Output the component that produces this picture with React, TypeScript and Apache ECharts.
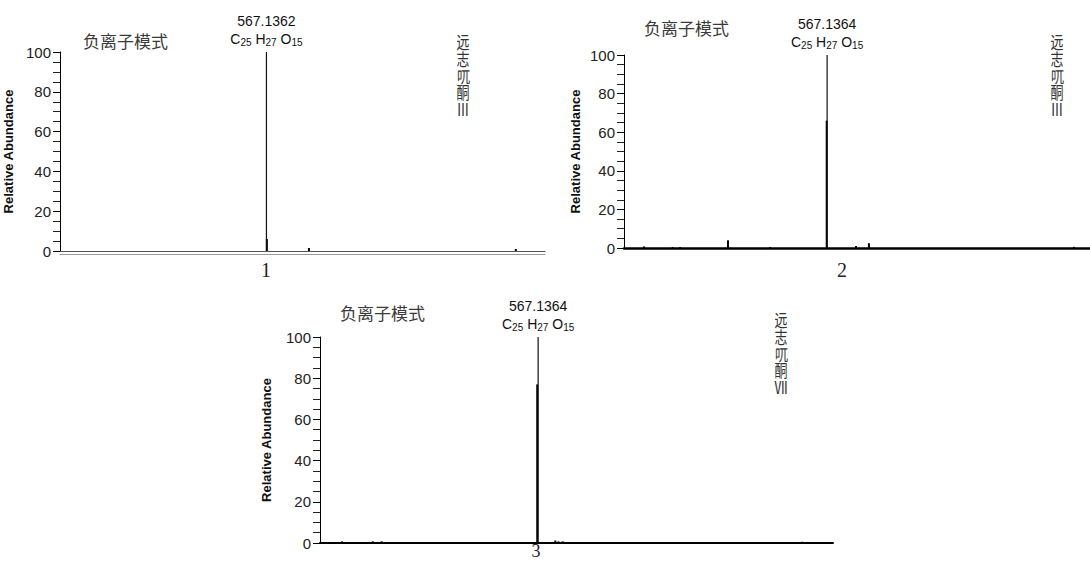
import React, { useEffect, useRef } from "react";
import * as echarts from "echarts";

// ---- data (m/z, relative abundance) ----
const basePeak1 = [[567.1362, 100]];
const otherPeaks1 = [[568.0, 6], [653, 1.5], [1071, 1]];
const basePeak2 = [[567.1364, 100]];
const otherPeaks2 = [[566.3, 66], [191, 0.8], [250, 0.5], [265, 0.5], [363.6, 4], [450, 0.5], [626.5, 1], [653, 2.5], [1074, 0.6]];
const basePeak3 = [[567.1364, 100]];
const otherPeaks3 = [[565.4, 77], [192, 0.8], [251, 0.8], [268, 0.8], [600, 1.2], [606, 0.8], [614, 0.8], [625, 0.5], [1072, 0.6]];

const peakMz = ["567.1362", "567.1364", "567.1364"];
const formulaParts = [["C", "25"], [" H", "27"], [" O", "15"]];
const modeLabel = "负离子模式";
const compoundNames = ["远\n志\n𠮾\n酮\nⅢ", "远\n志\n𠮾\n酮\nⅢ", "远\n志\n𠮾\n酮\nⅦ"];
const panelNumbers = ["1", "2", "3"];
const yTicks = [0, 20, 40, 60, 80, 100];
const xRanges = [[150, 1130], [150, 1107], [150, 1131]];

const FONT = "'Liberation Sans', Arial, sans-serif";
const CJK = "'Noto Sans CJK SC', sans-serif";

function peakLabel(mz: string) {
  const f = formulaParts.map(([e, s]) => `{e|${e}}{s|${s}}`).join("");
  return `{m|${mz}}\n${f}`;
}

const richStyle = {
  m: { fontSize: 14, lineHeight: 18, fontFamily: FONT, fill: "#111" },
  e: { fontSize: 14, lineHeight: 18, fontFamily: FONT, fill: "#111" },
  s: { fontSize: 10, lineHeight: 18, fontFamily: FONT, fill: "#111", padding: [6, 0, 0, 0] },
};

function makeRender(width: number, color: string, label?: string) {
  return (params: any, api: any) => {
    const x = api.value(0);
    const y = api.value(1);
    const top = api.coord([x, y]);
    const base = api.coord([x, 0]);
    const el: any = {
      type: "line",
      shape: { x1: top[0], y1: top[1], x2: base[0], y2: base[1] },
      style: { stroke: color, lineWidth: width },
    };
    if (label) {
      el.textContent = {
        style: { text: label, rich: richStyle, align: "center", verticalAlign: "bottom" },
      };
      el.textConfig = { position: "top", distance: 3 };
    }
    return el;
  };
}

export default function App() {
  const ref = useRef<HTMLDivElement>(null);
  useEffect(() => {
    if (!ref.current) return;
    const chart = echarts.init(ref.current, undefined, { renderer: "svg" });
    const grids = [
      { left: 60, top: 52, width: 485, height: 199 },
      { left: 624, top: 55, width: 466, height: 193 },
      { left: 320, top: 337, width: 513, height: 206 },
    ];
    const nameGaps = [45, 42, 47];
    const xLineStyles = [
      { color: "#555", width: 1 },
      { color: "#000", width: 2.5 },
      { color: "#000", width: 2 },
    ];
    const xAxes: any[] = grids.map((_, i) => ({
      type: "value",
      gridIndex: i,
      min: xRanges[i][0],
      max: xRanges[i][1],
      axisLine: { show: true, onZero: false, lineStyle: xLineStyles[i] },
      axisTick: { show: false },
      axisLabel: { show: false },
      splitLine: { show: false },
    }));
    xAxes.push({
      type: "value",
      gridIndex: 0,
      position: "bottom",
      offset: 3,
      min: xRanges[0][0],
      max: xRanges[0][1],
      axisLine: { show: true, onZero: false, lineStyle: { color: "#999", width: 1 } },
      axisTick: { show: false },
      axisLabel: { show: false },
      splitLine: { show: false },
    });
    const yAxes = grids.map((_, i) => ({
      type: "value",
      gridIndex: i,
      min: yTicks[0],
      max: yTicks[yTicks.length - 1],
      interval: yTicks[1] - yTicks[0],
      axisLine: { show: true, lineStyle: { color: "#000", width: 1 } },
      axisTick: { show: true, length: 7, lineStyle: { color: "#000" } },
      minorTick: { show: true, splitNumber: 4, length: 7, lineStyle: { color: "#222" } },
      axisLabel: { fontSize: 15, color: "#222", margin: 9, fontFamily: FONT },
      splitLine: { show: false },
      name: "Relative Abundance",
      nameLocation: "middle",
      nameGap: nameGaps[i],
      nameTextStyle: { fontSize: 13, fontWeight: "bold", color: "#111", fontFamily: FONT },
    }));
    const bases = [basePeak1, basePeak2, basePeak3];
    const others = [otherPeaks1, otherPeaks2, otherPeaks3];
    const series: any[] = [];
    for (let i = 0; i < 3; i++) {
      series.push({
        type: "custom",
        xAxisIndex: i,
        yAxisIndex: i,
        clip: false,
        data: others[i],
        encode: { x: 0, y: 1 },
        renderItem: makeRender(2, "#000"),
      });
      series.push({
        type: "custom",
        xAxisIndex: i,
        yAxisIndex: i,
        clip: false,
        data: bases[i],
        encode: { x: 0, y: 1 },
        renderItem: makeRender(1.2, "#111", peakLabel(peakMz[i])),
      });
    }
    const modePos = [[83, 40], [644, 27], [340, 312]];
    const namePos = [[463, 33], [1057, 33], [781, 311]];
    const numPos = [[266, 270], [842, 270], [536, 551]];
    const numSizes = [20, 20, 18];
    const graphic: any[] = [];
    for (let i = 0; i < 3; i++) {
      graphic.push({
        type: "text",
        x: modePos[i][0],
        y: modePos[i][1],
        style: { text: modeLabel, fontSize: 17, fontFamily: CJK, fill: "#3a3a3a", verticalAlign: "middle" },
      });
      graphic.push({
        type: "text",
        x: namePos[i][0],
        y: namePos[i][1],
        scaleY: 1.3,
        style: {
          text: compoundNames[i],
          fontSize: 13,
          lineHeight: 13,
          fontFamily: CJK,
          fill: "#333",
          align: "center",
          verticalAlign: "top",
        },
      });
      graphic.push({
        type: "text",
        x: numPos[i][0],
        y: numPos[i][1],
        style: {
          text: panelNumbers[i],
          fontSize: numSizes[i],
          fontFamily: "'Liberation Serif', 'Times New Roman', serif",
          fill: "#222",
          align: "center",
          verticalAlign: "middle",
        },
      });
    }
    chart.setOption({
      animation: false,
      backgroundColor: "#fff",
      grid: grids,
      xAxis: xAxes,
      yAxis: yAxes,
      series,
      graphic,
    });
    return () => chart.dispose();
  }, []);
  return (
    <div
      ref={ref}
      style={{ position: "absolute", left: 0, top: 0, width: 1090, height: 562 }}
    />
  );
}
